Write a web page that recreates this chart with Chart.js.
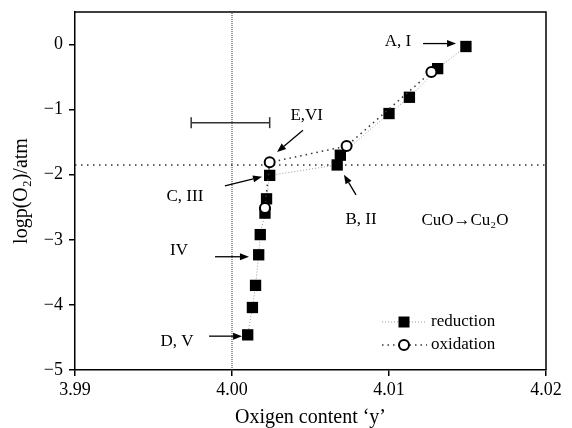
<!DOCTYPE html>
<html>
<head>
<meta charset="utf-8">
<script src="https://cdn.jsdelivr.net/npm/chart.js@4"></script>
<style>
  body { margin: 0; background: #fff; }
  canvas { display: block; }
</style>
</head>
<body>
<canvas id="chart" width="572" height="428"></canvas>
<script>
// data
const reductionX = [4.0149, 4.0131, 4.0113, 4.0100, 4.0069, 4.0067, 4.0024, 4.0022, 4.0021, 4.0018, 4.0017, 4.0015, 4.0013, 4.0010];
const reductionY = [-0.03, -0.37, -0.81, -1.06, -1.70, -1.85, -2.01, -2.37, -2.59, -2.92, -3.23, -3.70, -4.04, -4.46];
const oxidationX = [4.0021, 4.0024, 4.0073, 4.0127];
const oxidationY = [-2.51, -1.81, -1.56, -0.42];

const xTicks = [3.99, 4.00, 4.01, 4.02];
const yTicks = [-5, -4, -3, -2, -1, 0];

// reference lines and error bar
const refX = 4.00;
const refY = -1.85;
const errBarX = [3.9974, 4.0024];
const errBarY = -1.2;

// point labels: text, text position, arrow from -> to
const noteText = ["A, I", "B, II", "C, III", "IV", "D, V", "E,VI"];
const noteX = [4.01057, 4.00822, 3.99700, 3.99662, 3.99650, 4.00476];
const noteY = [0.046, -2.69, -2.34, -3.17, -4.57, -1.086];
const arrowFromX = [4.01217, 4.00790, 3.99955, 3.99892, 3.99854, 4.00452];
const arrowFromY = [0.015, -2.31, -2.17, -3.26, -4.48, -1.315];
const arrowToX = [4.01427, 4.00713, 4.00191, 4.00108, 4.00064, 4.00287];
const arrowToY = [0.015, -2.00, -2.03, -3.26, -4.48, -1.651];
const reactionText = "CuO\u2192Cu\u2082O";
const reactionPos = [4.01484, -2.71];

const FONT = '"Liberation Serif", "Times New Roman", serif';

const toPoints = (xs, ys) => xs.map((x, i) => ({ x: x, y: ys[i] }));

const redDash = [1, 2];
const oxDash = [1.5, 4];

// box, labels, arrows and legend drawn on the canvas
const extras = {
  id: "extras",
  beforeDatasetsDraw(chart) {
    const { ctx, chartArea: a } = chart;
    ctx.save();
    ctx.strokeStyle = "#000";
    ctx.lineWidth = 1.5;
    ctx.beginPath();
    ctx.moveTo(a.left, a.top);
    ctx.lineTo(a.right, a.top);
    ctx.lineTo(a.right, a.bottom);
    ctx.stroke();
    ctx.restore();
  },
  afterDatasetsDraw(chart) {
    const { ctx } = chart;
    const xs = chart.scales.x, ys = chart.scales.y;
    ctx.save();
    ctx.fillStyle = "#000";
    ctx.strokeStyle = "#000";
    ctx.font = "17px " + FONT;
    ctx.textAlign = "center";
    ctx.textBaseline = "middle";
    noteText.forEach((t, i) => {
      ctx.fillText(t, xs.getPixelForValue(noteX[i]), ys.getPixelForValue(noteY[i]));
      const x1 = xs.getPixelForValue(arrowFromX[i]), y1 = ys.getPixelForValue(arrowFromY[i]);
      const x2 = xs.getPixelForValue(arrowToX[i]), y2 = ys.getPixelForValue(arrowToY[i]);
      const ang = Math.atan2(y2 - y1, x2 - x1);
      const hl = 9, hw = 3.5;
      const bx = x2 - hl * Math.cos(ang), by = y2 - hl * Math.sin(ang);
      ctx.lineWidth = 1.3;
      ctx.beginPath();
      ctx.moveTo(x1, y1);
      ctx.lineTo(bx, by);
      ctx.stroke();
      ctx.beginPath();
      ctx.moveTo(x2, y2);
      ctx.lineTo(bx + hw * Math.sin(ang), by - hw * Math.cos(ang));
      ctx.lineTo(bx - hw * Math.sin(ang), by + hw * Math.cos(ang));
      ctx.closePath();
      ctx.fill();
    });
    ctx.fillText(reactionText, xs.getPixelForValue(reactionPos[0]), ys.getPixelForValue(reactionPos[1]));

    // legend
    const rows = [
      { label: "reduction", dash: redDash, color: "#999", lw: 1, marker: "rect" },
      { label: "oxidation", dash: oxDash, color: "#333", lw: 1.5, marker: "circle" }
    ];
    ctx.textAlign = "left";
    rows.forEach((r, i) => {
      const y = 322 + i * 23;
      ctx.save();
      ctx.setLineDash(r.dash);
      ctx.strokeStyle = r.color;
      ctx.lineWidth = r.lw;
      ctx.beginPath();
      ctx.moveTo(382, y);
      ctx.lineTo(427, y);
      ctx.stroke();
      ctx.restore();
      if (r.marker === "rect") {
        ctx.fillRect(398.5, y - 5.5, 11, 11);
      } else {
        ctx.beginPath();
        ctx.arc(404, y, 5, 0, Math.PI * 2);
        ctx.fillStyle = "#fff";
        ctx.fill();
        ctx.lineWidth = 2;
        ctx.stroke();
        ctx.fillStyle = "#000";
      }
      ctx.fillText(r.label, 431, y);
    });
    ctx.restore();
  }
};

const tickFont = { family: FONT, size: 18 };
const titleFont = { family: FONT, size: 20, lineHeight: 1.2 };

new Chart(document.getElementById("chart"), {
  type: "scatter",
  data: {
    datasets: [
      {
        label: "oxidation",
        data: toPoints(oxidationX, oxidationY),
        showLine: true,
        borderColor: "#333",
        borderWidth: 1.5,
        borderDash: oxDash,
        pointStyle: "circle",
        pointRadius: 5,
        pointBorderWidth: 2,
        pointBorderColor: "#000",
        pointBackgroundColor: "#fff"
      },
      {
        label: "reduction",
        data: toPoints(reductionX, reductionY),
        showLine: true,
        borderColor: "#999",
        borderWidth: 1,
        borderDash: redDash,
        pointStyle: "rect",
        pointRadius: 8,
        pointBorderWidth: 0,
        pointBackgroundColor: "#000"
      },
      {
        label: "error",
        data: toPoints(errBarX, [errBarY, errBarY]),
        showLine: true,
        borderColor: "#333",
        borderWidth: 1.5,
        pointStyle: "line",
        rotation: 90,
        pointRadius: 5.5,
        pointBorderWidth: 1.5,
        pointBorderColor: "#333"
      },
      {
        label: "refY",
        data: toPoints([3.99, 4.02], [refY, refY]),
        showLine: true,
        borderColor: "#333",
        borderWidth: 1.5,
        borderDash: [1.5, 4.5],
        pointRadius: 0
      },
      {
        label: "refX",
        data: toPoints([refX, refX], [-5, 0.5]),
        showLine: true,
        borderColor: "#333",
        borderWidth: 1,
        borderDash: [1, 1],
        pointRadius: 0
      }
    ]
  },
  options: {
    responsive: false,
    animation: false,
    devicePixelRatio: 1,
    layout: { padding: { top: 12, right: 26, left: 0, bottom: 0 } },
    plugins: { legend: { display: false }, tooltip: { enabled: false } },
    scales: {
      x: {
        type: "linear",
        min: 3.99,
        max: 4.02,
        afterBuildTicks: (s) => { s.ticks = xTicks.map((v) => ({ value: v })); },
        afterFit: (s) => { s.height = 58; s.paddingLeft = 0; s.paddingRight = 0; },
        ticks: {
          callback: (v) => v.toFixed(2),
          font: tickFont,
          color: "#000",
          padding: 3,
          maxRotation: 0,
          autoSkip: false
        },
        grid: { drawOnChartArea: false, tickLength: 6, color: "#000", lineWidth: 1.5 },
        border: { color: "#000", width: 1.5 },
        title: {
          display: true,
          text: "Oxigen content \u2018y\u2019",
          font: { family: FONT, size: 20, lineHeight: 1 },
          color: "#000",
          padding: { top: 0, bottom: 0 }
        }
      },
      y: {
        type: "linear",
        min: -5,
        max: 0.5,
        afterBuildTicks: (s) => { s.ticks = yTicks.map((v) => ({ value: v })); },
        afterFit: (s) => { s.width = 75; s.paddingTop = 0; s.paddingBottom = 0; },
        ticks: {
          callback: (v) => (v < 0 ? "\u2212" + Math.abs(v) : String(v)),
          font: tickFont,
          color: "#000",
          padding: 6,
          autoSkip: false
        },
        grid: { drawOnChartArea: false, tickLength: 6, color: "#000", lineWidth: 1.5 },
        border: { color: "#000", width: 1.5 },
        title: {
          display: true,
          text: "logp(O\u2082)/atm",
          font: titleFont,
          color: "#000",
          padding: { top: 10, bottom: 0 }
        }
      }
    }
  },
  plugins: [extras]
});
</script>
</body>
</html>
